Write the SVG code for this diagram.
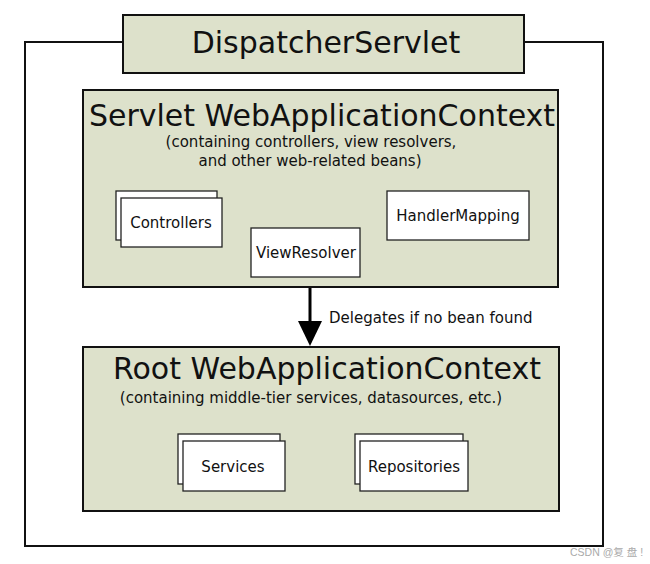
<svg xmlns="http://www.w3.org/2000/svg" width="650" height="564" viewBox="0 0 650 564">
<style>
text{font-family:"DejaVu Sans","Liberation Sans",sans-serif;fill:#111}
.ctx{fill:#dde1cb;stroke:#111;stroke-width:2}
.bean{fill:#fff;stroke:#222;stroke-width:1.3}
.big{font-size:30px;text-anchor:middle}
.sub{font-size:15px;text-anchor:middle}
.lbl{font-size:15px;text-anchor:middle}
</style>
<rect width="650" height="564" fill="#fff"/>
<g id="frame">
<path d="M123,42 H25 V546 H603 V42 H524" fill="none" stroke="#111" stroke-width="2"/>
</g>
<g id="dispatcher">
<rect class="ctx" x="123" y="15" width="401" height="58"/>
<text class="big" x="326" y="53">DispatcherServlet</text>
</g>
<g id="servlet-context">
<rect class="ctx" x="83" y="90" width="475" height="197"/>
<text class="big" x="322" y="126">Servlet WebApplicationContext</text>
<text class="sub" x="311" y="147">(containing controllers, view resolvers,</text>
<text class="sub" x="310" y="166">and other web-related beans)</text>
</g>
<g id="controllers">
<rect class="bean" x="116" y="191" width="101" height="49"/>
<rect class="bean" x="121" y="198" width="101" height="49"/>
<text class="lbl" x="171" y="228">Controllers</text>
</g>
<g id="handlermapping">
<rect class="bean" x="387" y="191" width="142" height="49"/>
<text class="lbl" x="458" y="221">HandlerMapping</text>
</g>
<g id="viewresolver">
<rect class="bean" x="251" y="228" width="109" height="49"/>
<text class="lbl" x="306" y="258">ViewResolver</text>
</g>
<g id="root-context">
<rect class="ctx" x="83" y="347" width="476" height="164"/>
<text class="big" x="327" y="379">Root WebApplicationContext</text>
<text class="sub" x="311" y="403">(containing middle-tier services, datasources, etc.)</text>
</g>
<g id="services">
<rect class="bean" x="178" y="434" width="102" height="50"/>
<rect class="bean" x="183" y="441" width="102" height="50"/>
<text class="lbl" x="233" y="472">Services</text>
</g>
<g id="repositories">
<rect class="bean" x="355" y="434" width="108" height="50"/>
<rect class="bean" x="360" y="441" width="108" height="50"/>
<text class="lbl" x="414" y="472">Repositories</text>
</g>
<g id="connectors">
<line x1="310" y1="288" x2="310" y2="325" stroke="#000" stroke-width="3"/>
<polygon points="298,321 322,321 310,346" fill="#000"/>
<text x="329" y="323" style="font-size:15px">Delegates if no bean found</text>
</g>
<text x="570" y="556" style="font-size:10.5px;fill:#aaa;font-family:'Liberation Sans','Noto Sans CJK SC',sans-serif">CSDN @复 盘 !</text>
</svg>
